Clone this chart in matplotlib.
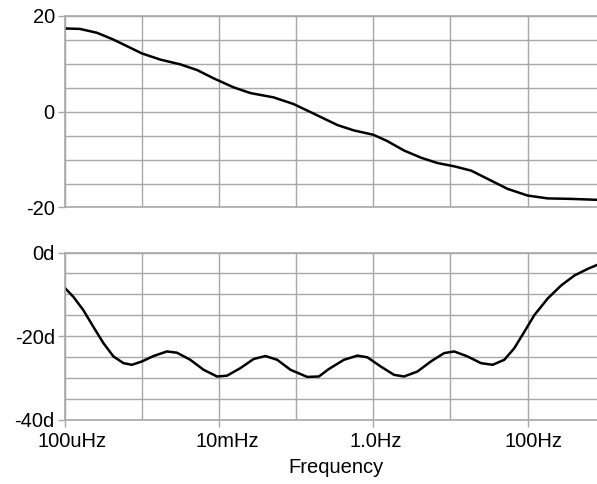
import numpy as np
import matplotlib.pyplot as plt
import matplotlib.transforms as mtransforms
from matplotlib.ticker import FixedLocator, FixedFormatter, NullFormatter

plt.rcParams['font.family'] = ['Liberation Sans', 'DejaVu Sans']

# log10(frequency in Hz)
top_logf = [-4.0, -3.80, -3.58, -3.37, -3.19, -3.0, -2.76, -2.50, -2.28, -2.07,
            -1.81, -1.59, -1.29, -1.03, -0.77, -0.59, -0.46, -0.25, 0.0, 0.18,
            0.40, 0.62, 0.83, 1.05, 1.27, 1.48, 1.74, 2.0, 2.26, 2.56, 2.91]
top_vals = [17.4, 17.3, 16.5, 15.1, 13.7, 12.2, 10.9, 9.9, 8.7, 7.0,
            5.1, 3.9, 3.0, 1.6, -0.4, -1.8, -2.8, -3.9, -4.8, -6.1,
            -8.1, -9.6, -10.7, -11.4, -12.3, -14.0, -16.1, -17.5, -18.1, -18.2, -18.4]

bot_logf = [-4.0, -3.886, -3.756, -3.626, -3.496, -3.366, -3.236, -3.127, -2.997, -2.847,
            -2.673, -2.543, -2.370, -2.197, -2.023, -1.894, -1.721, -1.548, -1.396, -1.244,
            -1.071, -0.855, -0.704, -0.574, -0.379, -0.205, -0.075, 0.097, 0.270, 0.400,
            0.574, 0.747, 0.919, 1.049, 1.223, 1.396, 1.548, 1.699, 1.829, 1.958,
            2.088, 2.262, 2.435, 2.608, 2.782, 2.912]
bot_vals = [-8.4, -10.6, -13.8, -17.8, -21.7, -24.9, -26.5, -26.9, -26.1, -24.8,
            -23.7, -24.0, -25.7, -28.1, -29.7, -29.5, -27.7, -25.5, -24.8, -25.7,
            -28.1, -29.8, -29.7, -27.9, -25.7, -24.7, -25.1, -27.3, -29.3, -29.7,
            -28.5, -26.1, -24.1, -23.7, -24.9, -26.5, -26.9, -25.7, -22.9, -19.0,
            -15.0, -11.0, -7.9, -5.5, -3.9, -2.9]

x_label_ticks = [1e-4, 1e-2, 1e0, 1e2]
x_labels = ['100uHz', '10mHz', '1.0Hz', '100Hz']
x_grid = [1e-4, 1e-3, 1e-2, 1e-1, 1e0, 1e1, 1e2]
top_yticks = [20, 0, -20]
top_ylabels = ['20', '0', '-20']
bot_yticks = [0, -20, -40]
bot_ylabels = ['0d', '-20d', '-40d']

W, H = 597, 484
fig = plt.figure(figsize=(W / 100, H / 100), dpi=100)

left = 64.5 / W
width = 1 - left
ax1 = fig.add_axes([left, 1 - 207.5 / H, width, (207.5 - 16) / H])
ax2 = fig.add_axes([left, 1 - 419.5 / H, width, (419.5 - 252.5) / H])

grid_c = '#a8a8a8'
fs = 14.5
for ax, yt, yl in ((ax1, top_yticks, top_ylabels), (ax2, bot_yticks, bot_ylabels)):
    ax.set_xscale('log')
    ax.set_xlim(1e-4, 10 ** 2.9)
    ax.xaxis.set_major_locator(FixedLocator(x_label_ticks))
    ax.xaxis.set_minor_locator(FixedLocator(x_grid))
    ax.xaxis.set_minor_formatter(NullFormatter())
    ax.yaxis.set_major_locator(FixedLocator(yt))
    ax.yaxis.set_major_formatter(FixedFormatter(yl))
    ax.grid(True, which='both', color=grid_c, linewidth=1.0)
    ax.set_axisbelow(True)
    for s in ax.spines.values():
        s.set_color(grid_c)
        s.set_linewidth(1.2)
    ax.spines['right'].set_visible(False)
    ax.tick_params(which='major', colors=grid_c, labelcolor='black', labelsize=fs,
                   length=5, width=1.0, pad=2)
    ax.tick_params(which='minor', length=0)

# top panel
ax1.plot(10 ** np.array(top_logf), top_vals, color='black', linewidth=1.8,
         solid_joinstyle='round', solid_capstyle='round')
ax1.set_ylim(-20, 20)
ax1.yaxis.set_minor_locator(FixedLocator(np.arange(-20, 21, 5)))
ax1.tick_params(axis='x', which='both', length=0, labelbottom=False)

# bottom panel
ax2.plot(10 ** np.array(bot_logf), bot_vals, color='black', linewidth=1.8,
         solid_joinstyle='round', solid_capstyle='round')
ax2.set_ylim(-40, 0)
ax2.yaxis.set_minor_locator(FixedLocator(np.arange(-40, 1, 5)))
ax2.xaxis.set_major_formatter(FixedFormatter(x_labels))
ax2.tick_params(axis='x', which='major', pad=4)
ax2.set_xlabel('Frequency', fontsize=fs, labelpad=5)
ax2.xaxis.label.set_position((0.51, 0))

# nudge the tick labels to the right like the reference
shifts = [8, 8, 3, 6]
for lab, dx in zip(ax2.get_xticklabels(), shifts):
    lab.set_transform(lab.get_transform() + mtransforms.ScaledTranslation(dx / 100, 0, fig.dpi_scale_trans))

fig.savefig('out.png', dpi=100, facecolor='white')
